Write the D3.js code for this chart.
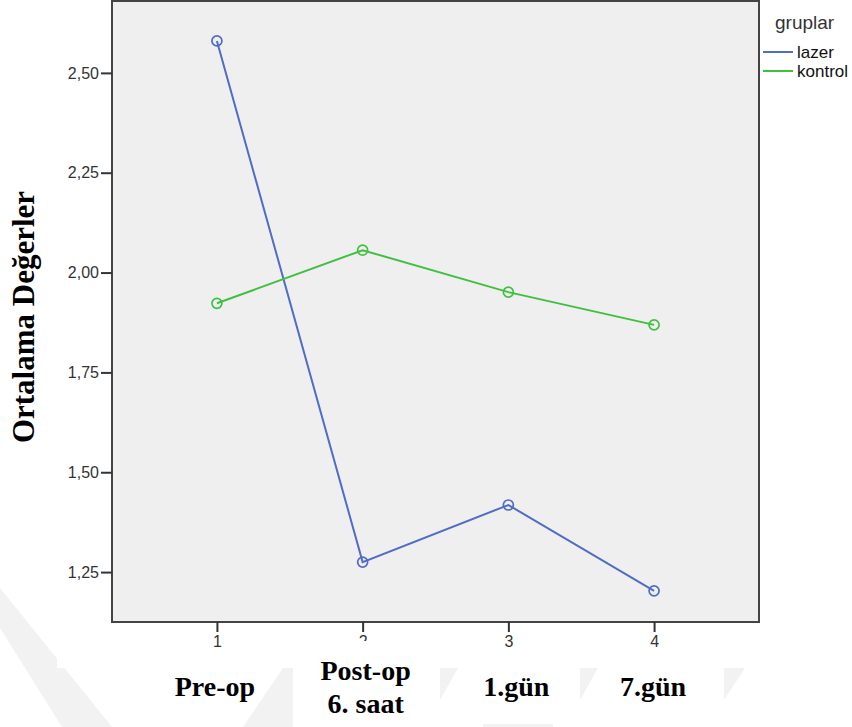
<!DOCTYPE html>
<html>
<head>
<meta charset="utf-8">
<script src="https://cdn.jsdelivr.net/npm/d3@7"></script>
<style>
  body { margin: 0; background: #fff; }
  svg { display: block; }
</style>
</head>
<body>
<div id="chart"></div>
<script>
// ---------------- data ----------------
var timePoints = [1, 2, 3, 4];
var timeLabels = [["Pre-op"], ["Post-op", "6. saat"], ["1.gün"], ["7.gün"]];
var lazer = [2.580, 1.275, 1.418, 1.203];
var kontrol = [1.923, 2.056, 1.951, 1.869];
var yTicks = [1.25, 1.50, 1.75, 2.00, 2.25, 2.50];
var groups = ["lazer", "kontrol"];

// ---------------- layout ----------------
var svgWidth = 852, svgHeight = 727;
var plot = { left: 112, right: 759, top: 1, bottom: 622 };
var colors = { lazer: "#506cc6", kontrol: "#40c040" };

var svg = d3.select("#chart").append("svg")
    .attr("width", svgWidth)
    .attr("height", svgHeight);

// page watermark behind the pasted chart image
var wm = svg.append("g").attr("fill", "#f2f2f2");
wm.append("polygon").attr("points", "0,588 0,628 62,727 112,727");
wm.append("polygon").attr("points", "243,727 293,727 293,668 283,668");
wm.append("polygon").attr("points", "440,668 458,668 440,700");
wm.append("polygon").attr("points", "580,668 598,668 580,700");
wm.append("polygon").attr("points", "724,668 745,668 724,700");
wm.append("rect").attr("x", 483).attr("y", 724).attr("width", 70).attr("height", 3);

// white area of the chart image
svg.append("rect").attr("x", 57).attr("y", 0)
    .attr("width", svgWidth - 57).attr("height", 668).attr("fill", "#fff");

// ---------------- scales ----------------
var x = d3.scaleLinear().domain([0.28, 4.72]).range([plot.left, plot.right]);
var y = d3.scaleLinear().domain([1.125, 2.68]).range([plot.bottom, plot.top]);

// plot background
svg.append("rect")
    .attr("x", plot.left).attr("y", plot.top)
    .attr("width", plot.right - plot.left).attr("height", plot.bottom - plot.top)
    .attr("fill", "#efefef")
    .attr("stroke", "#444").attr("stroke-width", 2);

var fmt = function(d) { return d3.format(".2f")(d).replace(".", ","); };

var yAxis = svg.append("g")
    .attr("transform", "translate(" + plot.left + ",0)")
    .call(d3.axisLeft(y).tickValues(yTicks).tickFormat(fmt).tickSize(11).tickPadding(2));
var xAxis = svg.append("g")
    .attr("transform", "translate(0," + plot.bottom + ")")
    .call(d3.axisBottom(x).tickValues(timePoints).tickFormat(d3.format("d")).tickSize(10).tickPadding(4));

[yAxis, xAxis].forEach(function(ax) {
    ax.select(".domain").remove();
    ax.selectAll("line").attr("stroke", "#333").attr("stroke-width", 2);
    ax.selectAll("text")
        .attr("fill", "#333")
        .style("font-family", "'Liberation Sans', Arial, sans-serif")
        .style("font-size", "16px");
});

// ---------------- lines ----------------
var series = [
    { name: "lazer", values: lazer },
    { name: "kontrol", values: kontrol }
];

var line = d3.line()
    .x(function(d, i) { return x(timePoints[i]); })
    .y(function(d) { return y(d); });

series.forEach(function(s) {
    svg.append("path")
        .datum(s.values)
        .attr("fill", "none")
        .attr("stroke", colors[s.name])
        .attr("stroke-width", 2)
        .attr("d", line);
    svg.append("g").selectAll("circle")
        .data(s.values)
        .enter()
        .append("circle")
        .attr("cx", function(d, i) { return x(timePoints[i]); })
        .attr("cy", function(d) { return y(d); })
        .attr("r", 5)
        .attr("fill", "none")
        .attr("stroke", colors[s.name])
        .attr("stroke-width", 1.7);
});

// ---------------- legend ----------------
var legend = svg.append("g").style("font-family", "'Liberation Sans', Arial, sans-serif");
legend.append("text").attr("x", 775).attr("y", 29)
    .text("gruplar").style("font-size", "19px").attr("fill", "#333");
groups.forEach(function(g, i) {
    legend.append("line")
        .attr("x1", 763).attr("x2", 793)
        .attr("y1", 52 + i * 19).attr("y2", 52 + i * 19)
        .attr("stroke", colors[g]).attr("stroke-width", 2);
    legend.append("text")
        .attr("x", 797).attr("y", 58 + i * 19)
        .text(g).style("font-size", "17px").attr("fill", "#111");
});

// ---------------- time labels (pasted over the image) ----------------
svg.append("rect").attr("x", 293).attr("y", 641).attr("width", 147).attr("height", 86).attr("fill", "#fff");

var labelDx = [-2, 3, 8, -1];
var serif = "'Liberation Serif', 'Times New Roman', serif";
timeLabels.forEach(function(lines, i) {
    var t = svg.append("text")
        .attr("text-anchor", "middle")
        .style("font-family", serif)
        .style("font-weight", "bold")
        .style("font-size", "28px")
        .attr("fill", "#000");
    var baseY = lines.length === 1 ? 696 : 680;
    lines.forEach(function(l, j) {
        t.append("tspan")
            .attr("x", x(timePoints[i]) + labelDx[i])
            .attr("y", baseY + j * 33)
            .text(l);
    });
});

// y title
svg.append("text")
    .attr("transform", "translate(34,317) rotate(-90)")
    .attr("text-anchor", "middle")
    .style("font-family", serif)
    .style("font-weight", "bold")
    .style("font-size", "31px")
    .text("Ortalama Değerler");
</script>
</body>
</html>
